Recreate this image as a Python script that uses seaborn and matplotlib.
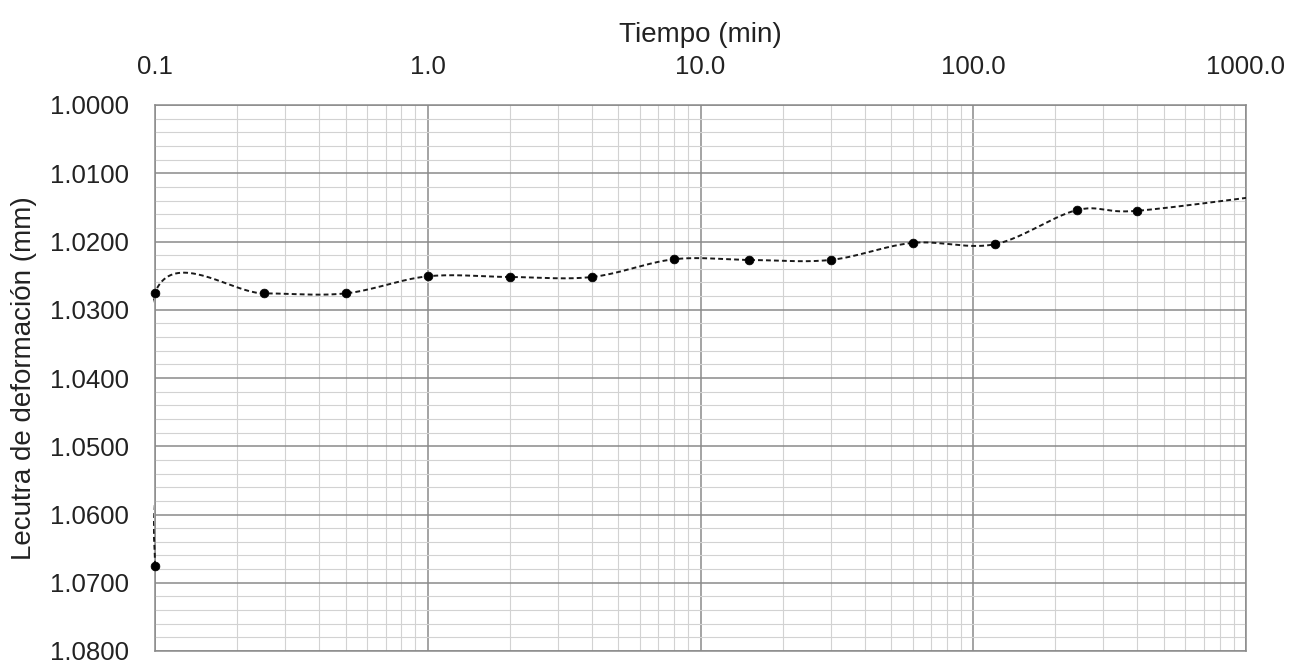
import numpy as np
import pandas as pd
import seaborn as sns
import matplotlib.pyplot as plt
from matplotlib.transforms import Bbox
from matplotlib.ticker import FixedLocator, FixedFormatter, MultipleLocator, LogLocator, NullFormatter

# ------------------------ Styling Setup ------------------------
sns.set_theme(style='white')
plt.rcParams['font.family'] = ['Liberation Sans', 'DejaVu Sans']

# ------------------------ Data ------------------------
tiempo = [0.1, 0.1, 0.25, 0.5, 1, 2, 4, 8, 15, 30, 60, 120, 240, 400, 1440]
lectura = [1.0675, 1.0275, 1.0276, 1.0276, 1.0251, 1.0252, 1.0252, 1.0226, 1.0227,
           1.0227, 1.0202, 1.0204, 1.0154, 1.0155, 1.0128]

x_ticks = [0.1, 1, 10, 100, 1000]
x_labels = ['0.1', '1.0', '10.0', '100.0', '1000.0']
y_ticks = [1.00, 1.01, 1.02, 1.03, 1.04, 1.05, 1.06, 1.07, 1.08]
y_labels = ['1.0000', '1.0100', '1.0200', '1.0300', '1.0400', '1.0500', '1.0600', '1.0700', '1.0800']

df = pd.DataFrame({'tiempo': tiempo, 'lectura': lectura})

# ------------------------ Smoothed line (spreadsheet-style) ------------------------
XS, YS = 272.7, 6825.0  # approx. pixels per decade / per mm on screen


def smooth(xs, ys, n=40):
    p = np.column_stack([np.log10(xs) * XS, np.asarray(ys) * YS])
    p = np.vstack([p[0], p, p[-1]])
    t = np.linspace(0, 1, n)[:, None]
    segs = []
    for i in range(1, len(p) - 2):
        p0, p1, p2, p3 = p[i - 1], p[i], p[i + 1], p[i + 2]
        c1 = p1 + (p2 - p0) / 6
        c2 = p2 - (p3 - p1) / 6
        segs.append((1 - t) ** 3 * p1 + 3 * (1 - t) ** 2 * t * c1
                    + 3 * (1 - t) * t ** 2 * c2 + t ** 3 * p2)
    s = np.vstack(segs)
    return 10 ** (s[:, 0] / XS), s[:, 1] / YS


sx, sy = smooth(df['tiempo'].values, df['lectura'].values)

# ------------------------ Figure ------------------------
fig = plt.figure(figsize=(12.98, 6.63), dpi=100)
ax = fig.add_axes([155 / 1298, 12 / 663, 1091 / 1298, 546 / 663])

line, = ax.plot(sx, sy, color='#1a1a1a', lw=1.4, ls=(0, (2.5, 1.6)), zorder=3)
# let the curve show a pixel or two past the left edge (as in the original)
bb = ax.bbox
line.set_clip_box(Bbox.from_extents(bb.x0 - 1.6, bb.y0, bb.x1, bb.y1))

pts = df[df['tiempo'] <= 1000]
sns.scatterplot(data=pts, x='tiempo', y='lectura', color='black', s=40,
                edgecolor='black', zorder=4, clip_on=False, ax=ax)

ax.set_xscale('log')
ax.set_xlim(0.1, 1000)
ax.set_ylim(1.08, 1.0)

ax.xaxis.tick_top()
ax.xaxis.set_label_position('top')
ax.xaxis.set_major_locator(FixedLocator(x_ticks))
ax.xaxis.set_major_formatter(FixedFormatter(x_labels))
ax.xaxis.set_minor_locator(LogLocator(base=10, subs=np.arange(2, 10)))
ax.xaxis.set_minor_formatter(NullFormatter())
ax.yaxis.set_major_locator(FixedLocator(y_ticks))
ax.yaxis.set_major_formatter(FixedFormatter(y_labels))
ax.yaxis.set_minor_locator(MultipleLocator(0.002))

ax.tick_params(which='both', length=0)
ax.tick_params(axis='x', which='major', labelsize=18.5, pad=18.5, colors='#222222')
ax.tick_params(axis='y', which='major', labelsize=18.5, pad=19, colors='#222222')

ax.grid(which='major', color='#8a8a8a', lw=1.1)
ax.grid(which='minor', color='#d2d2d2', lw=0.8)
for sp in ax.spines.values():
    sp.set_color('#8a8a8a')
    sp.set_linewidth(1.1)

ax.set_xlabel('Tiempo (min)', fontsize=20, color='#222222')
ax.set_ylabel('Lecutra de deformación (mm)', fontsize=20, color='#222222')
ax.xaxis.set_label_coords(0.5, 1.115)
ax.yaxis.set_label_coords(-0.108, 0.5)

fig.savefig('out.png', dpi=100)
